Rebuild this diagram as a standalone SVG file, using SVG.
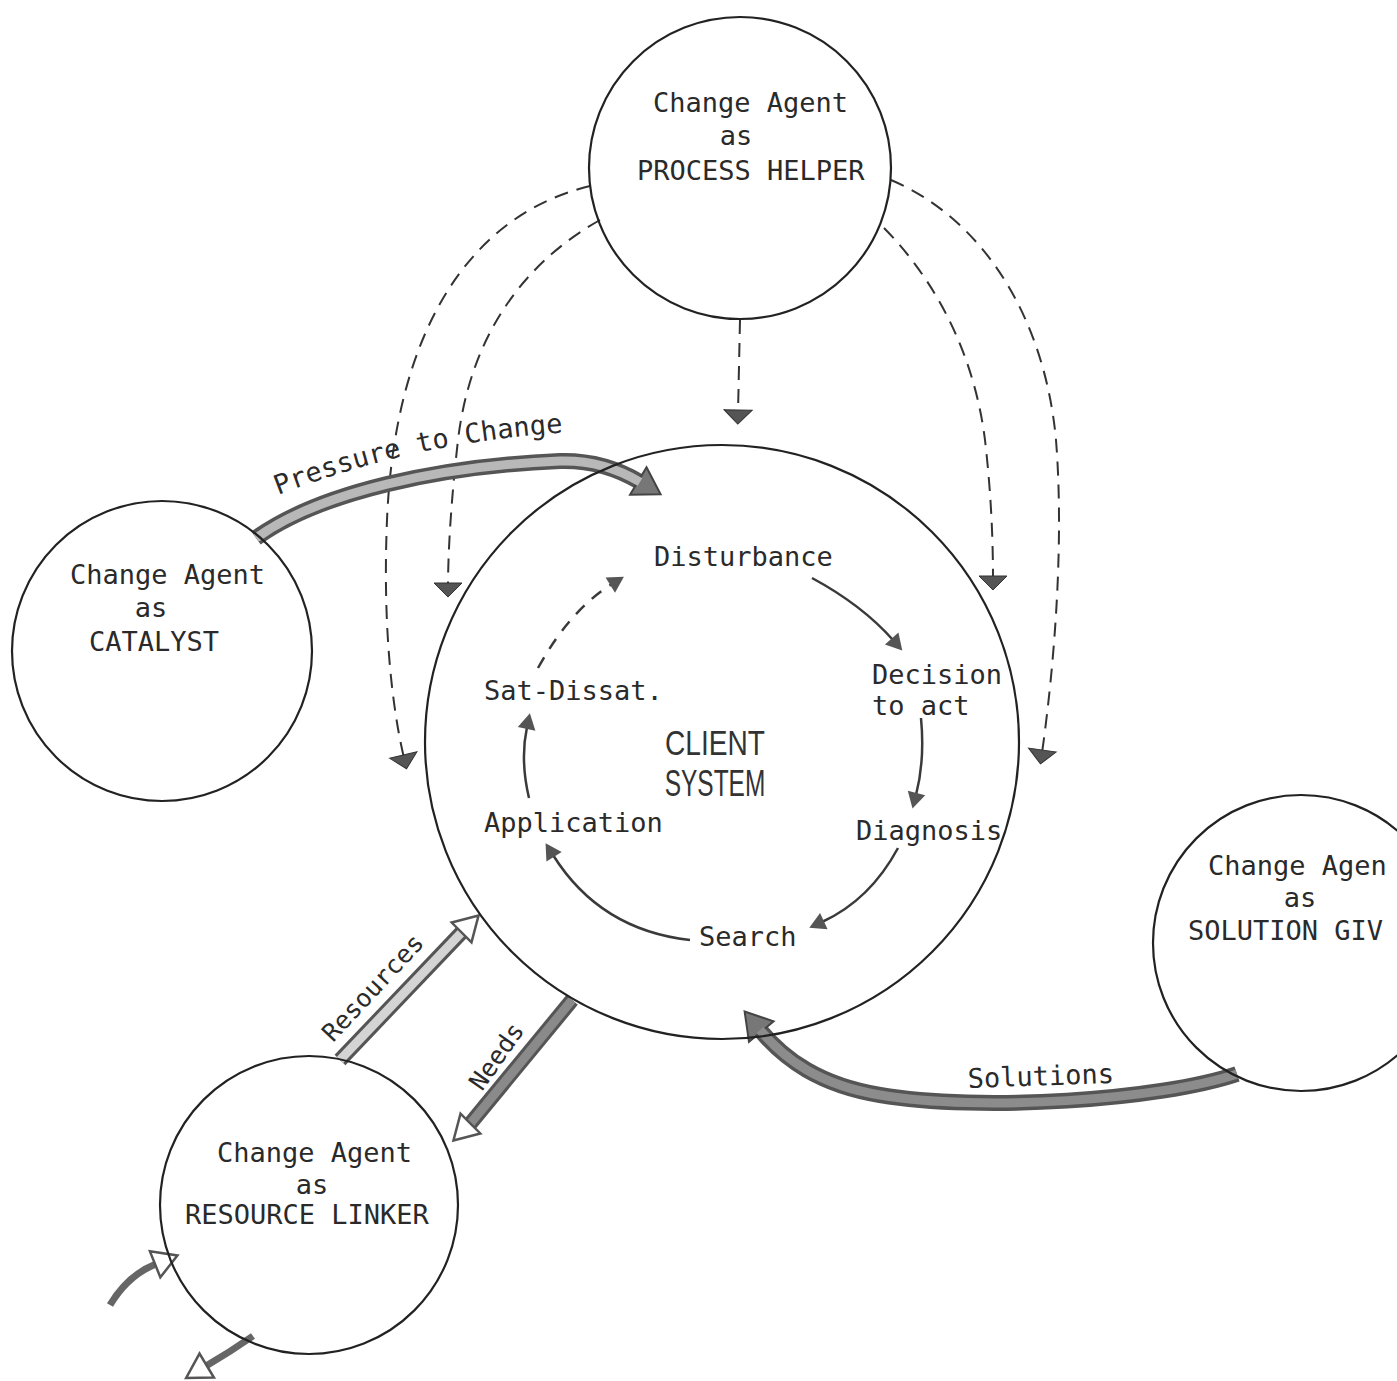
<svg xmlns="http://www.w3.org/2000/svg" width="1397" height="1381" viewBox="0 0 1397 1381">
<style>
.node{fill:none;stroke:#222;stroke-width:2.2}
.tw{font-family:"DejaVu Sans Mono","Liberation Mono",monospace;font-size:27px;fill:#2a2a2a}
.dash{fill:none;stroke:#333;stroke-width:2;stroke-dasharray:14 9}
.cyc{fill:none;stroke:#3a3a3a;stroke-width:2.5}
.bandO{fill:none;stroke:#555;stroke-width:16}
.bandI{fill:none;stroke:#b8b8b8;stroke-width:9}
.sys{font-family:"Liberation Sans",Arial,sans-serif;font-size:36px;fill:#333}
</style>
<defs>
<marker id="dhead" markerUnits="userSpaceOnUse" orient="auto" overflow="visible" markerWidth="20" markerHeight="30" refX="0" refY="0">
<path d="M-3,-14 L11,0 L-3,14 Z" fill="#555" stroke="#333" stroke-width="1"/>
</marker>
<marker id="chead" markerUnits="userSpaceOnUse" orient="auto" overflow="visible" markerWidth="20" markerHeight="20" refX="0" refY="0">
<path d="M-2,-9 L14,0 L-2,9 Z" fill="#555"/>
</marker>
<marker id="bhead" markerUnits="userSpaceOnUse" orient="auto" overflow="visible" markerWidth="30" markerHeight="34" refX="0" refY="0">
<path d="M-2,-16 L24,0 L-2,16 Z" fill="#777" stroke="#444" stroke-width="2"/>
</marker>
<marker id="hhead" markerUnits="userSpaceOnUse" orient="auto" overflow="visible" markerWidth="30" markerHeight="34" refX="0" refY="0">
<path d="M-2,-14 L22,0 L-2,14 Z" fill="#fff" stroke="#555" stroke-width="2.5"/>
</marker>
</defs>

<g id="connectors">
  <!-- dashed influence lines from Process Helper -->
  <path class="dash" d="M590 186 C470 215 395 330 387 520 C382 640 395 720 404 758" marker-end="url(#dhead)"/>
  <path class="dash" d="M600 220 C520 265 470 340 458 440 C450 510 448 560 448 586" marker-end="url(#dhead)"/>
  <path class="dash" d="M740 320 L738 413" marker-end="url(#dhead)"/>
  <path class="dash" d="M884 228 C940 285 975 360 985 440 C992 500 993 550 993 579" marker-end="url(#dhead)"/>
  <path class="dash" d="M891 180 C985 220 1045 320 1056 440 C1064 540 1055 660 1042 753" marker-end="url(#dhead)"/>

  <!-- inner cycle -->
  <path class="cyc" d="M812 578 Q862 605 893 640" marker-end="url(#chead)"/>
  <path class="cyc" d="M921 718 Q925 760 916 795" marker-end="url(#chead)"/>
  <path class="cyc" d="M898 848 Q870 900 822 922" marker-end="url(#chead)"/>
  <path class="cyc" d="M690 940 Q600 930 553 855" marker-end="url(#chead)"/>
  <path class="cyc" d="M529 798 Q520 760 527 727" marker-end="url(#chead)"/>
  <path class="cyc" d="M538 668 Q570 610 612 584" stroke-width="3.5" stroke-dasharray="12 10" marker-end="url(#chead)"/>

  <!-- Pressure to Change -->
  <path class="bandO" d="M256 538 C320 492 440 466 560 461 C595 460 620 470 640 482" marker-end="url(#bhead)"/>
  <path class="bandI" d="M256 538 C320 492 440 466 560 461 C595 460 620 470 640 482"/>
  <path id="pPath" d="M278 495 Q420 440 575 432" fill="none"/>
  <text class="tw"><textPath href="#pPath">Pressure to Change</textPath></text>

  <!-- Solutions -->
  <path class="bandO" d="M1237 1074 C1160 1100 980 1112 880 1095 C820 1085 785 1060 760 1030" marker-end="url(#bhead)"/>
  <path class="bandI" d="M1237 1074 C1160 1100 980 1112 880 1095 C820 1085 785 1060 760 1030" style="stroke:#8c8c8c"/>
  <text class="tw" x="968" y="1088" transform="rotate(-2 968 1088)">Solutions</text>

  <!-- Resources -->
  <path class="bandO" d="M340 1060 L462 932" style="stroke-width:15"/>
  <path class="bandI" d="M340 1060 L462 932" style="stroke:#d4d4d4"/>
  <path d="M462 932 L463 931" fill="none" stroke="none" marker-end="url(#hhead)"/>
  <text class="tw" x="333" y="1043" transform="rotate(-47 333 1043)" style="font-size:25px">Resources</text>

  <!-- Needs -->
  <path class="bandO" d="M572 1000 L470 1124" style="stroke-width:15"/>
  <path class="bandI" d="M572 1000 L470 1124" style="stroke:#8a8a8a"/>
  <path d="M470 1124 L469 1125" fill="none" stroke="none" marker-end="url(#hhead)"/>
  <text class="tw" x="482" y="1092" transform="rotate(-55 482 1092)" style="font-size:25px">Needs</text>

  <!-- small arrows at Resource Linker -->
  <path d="M110 1305 Q128 1275 156 1264" fill="none" stroke="#666" stroke-width="7"/>
  <path d="M156 1264 L157 1263.6" stroke="none" marker-end="url(#hhead)"/>
  <path d="M253 1336 Q230 1352 206 1366" fill="none" stroke="#666" stroke-width="7"/>
  <path d="M206 1366 L205 1366.6" stroke="none" marker-end="url(#hhead)"/>
</g>

<g id="process-helper">
  <circle class="node" cx="740" cy="168" r="151"/>
  <text class="tw" x="653" y="112">Change Agent</text>
  <text class="tw" x="736" y="145" text-anchor="middle">as</text>
  <text class="tw" x="637" y="180">PROCESS HELPER</text>
</g>

<g id="catalyst">
  <circle class="node" cx="162" cy="651" r="150"/>
  <text class="tw" x="70" y="584">Change Agent</text>
  <text class="tw" x="151" y="617" text-anchor="middle">as</text>
  <text class="tw" x="89" y="651">CATALYST</text>
</g>

<g id="client-system">
  <circle class="node" cx="722" cy="742" r="297"/>
  <text class="sys" transform="translate(715 755) scale(0.78 1)" text-anchor="middle">CLIENT</text>
  <text class="sys" transform="translate(715 796) scale(0.68 1)" text-anchor="middle">SYSTEM</text>
  <text class="tw" x="654" y="566">Disturbance</text>
  <text class="tw" x="872" y="684">Decision</text>
  <text class="tw" x="872" y="715">to act</text>
  <text class="tw" x="856" y="840">Diagnosis</text>
  <text class="tw" x="699" y="946">Search</text>
  <text class="tw" x="484" y="832">Application</text>
  <text class="tw" x="484" y="700">Sat-Dissat.</text>
</g>

<g id="resource-linker">
  <circle class="node" cx="309" cy="1205" r="149"/>
  <text class="tw" x="217" y="1162">Change Agent</text>
  <text class="tw" x="312" y="1194" text-anchor="middle">as</text>
  <text class="tw" x="185" y="1224">RESOURCE LINKER</text>
</g>

<g id="solution-giver">
  <circle class="node" cx="1301" cy="943" r="148"/>
  <text class="tw" x="1208" y="875">Change Agen</text>
  <text class="tw" x="1300" y="907" text-anchor="middle">as</text>
  <text class="tw" x="1188" y="940">SOLUTION GIV</text>
</g>
</svg>
